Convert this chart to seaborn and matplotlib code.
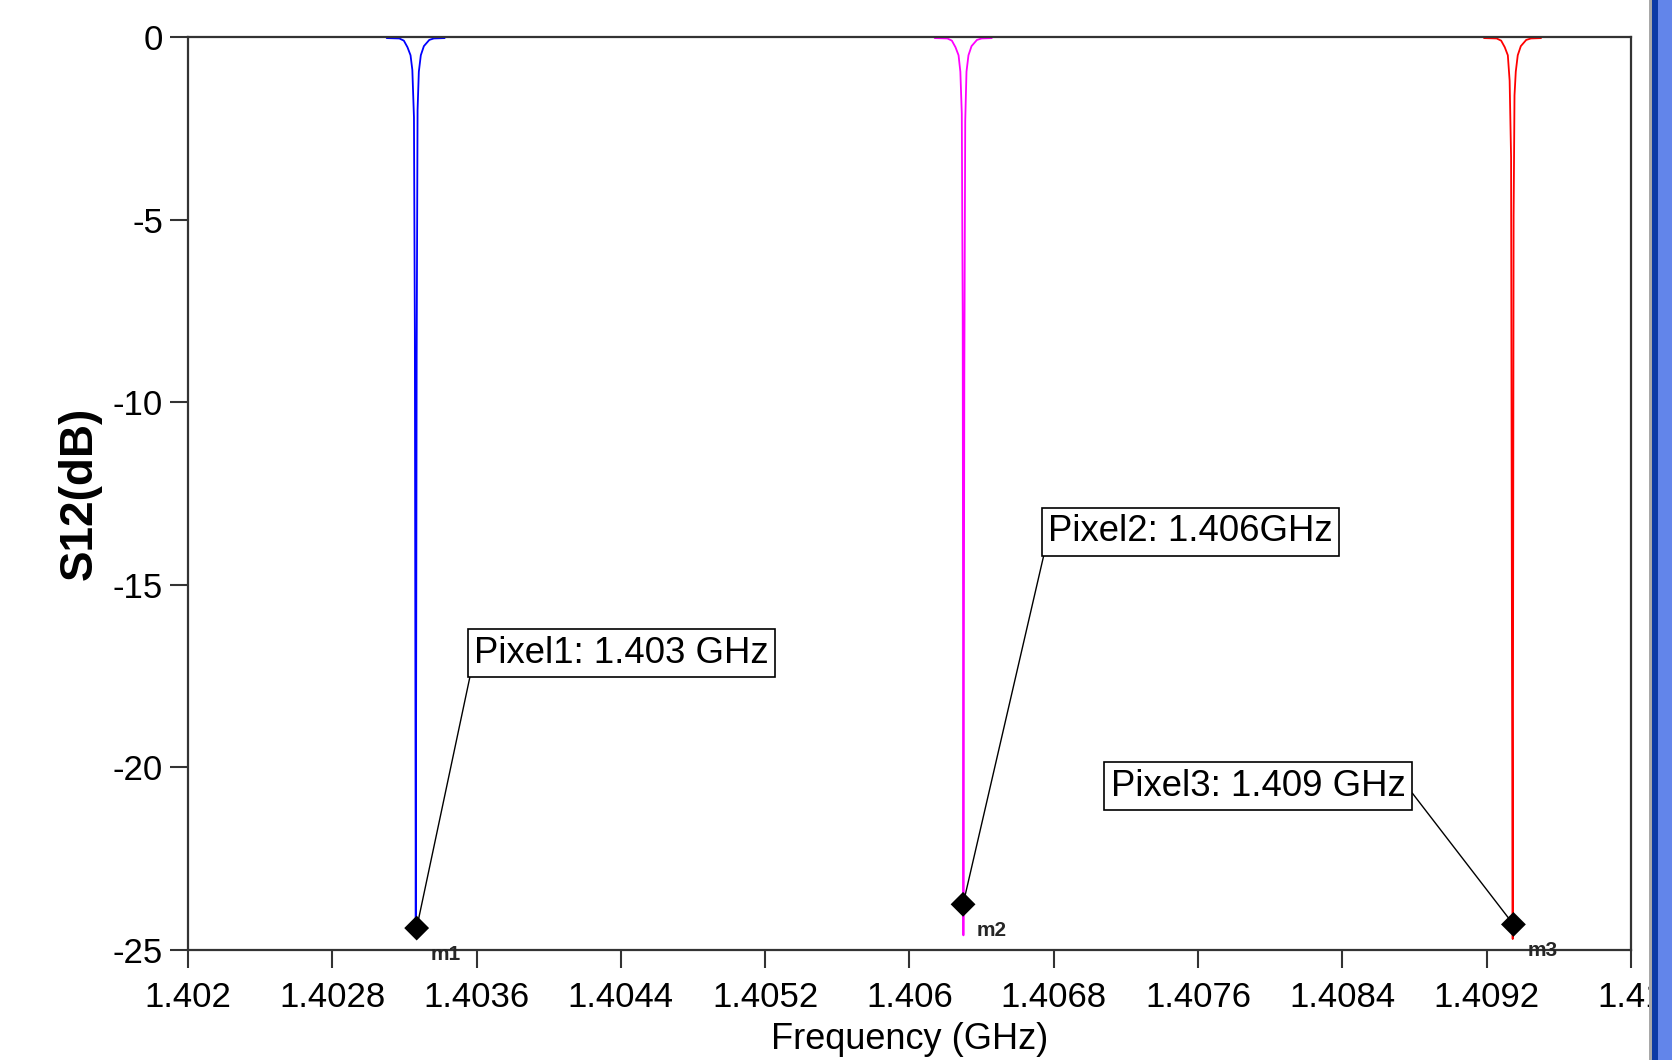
import matplotlib
matplotlib.use("Agg")
import matplotlib.pyplot as plt
from matplotlib.patches import Rectangle
import seaborn as sns
import pandas as pd

# ---------------- data ----------------
pixel1_freq = [1.403102, 1.403172, 1.403197, 1.403217, 1.403234, 1.403244, 1.403253,
               1.403258, 1.403263, 1.403268, 1.403273, 1.403280, 1.403291, 1.403308,
               1.403338, 1.403363, 1.403423]
pixel1_db = [-0.03, -0.04, -0.10, -0.28, -0.50, -0.90, -2.2, -8.1, -24.6, -8.7, -2.0,
             -0.95, -0.50, -0.25, -0.08, -0.04, -0.03]

pixel2_freq = [1.406140, 1.406210, 1.406235, 1.406255, 1.406272, 1.406282, 1.406290,
               1.406295, 1.406299, 1.406304, 1.406309, 1.406316, 1.406327, 1.406344,
               1.406374, 1.406400, 1.406456]
pixel2_db = [-0.03, -0.04, -0.10, -0.28, -0.50, -0.95, -2.1, -7.6, -24.6, -9.3, -2.3,
             -0.95, -0.50, -0.25, -0.08, -0.04, -0.03]

pixel3_freq = [1.409185, 1.409255, 1.409280, 1.409300, 1.409317, 1.409327, 1.409335,
               1.409340, 1.409344, 1.409349, 1.409354, 1.409361, 1.409372, 1.409389,
               1.409419, 1.409445, 1.409501]
pixel3_db = [-0.03, -0.04, -0.10, -0.28, -0.50, -1.2, -3.3, -17.0, -24.7, -4.9, -1.6,
             -0.95, -0.50, -0.25, -0.08, -0.04, -0.03]

series_names = ["Pixel1", "Pixel2", "Pixel3"]
series_colors = ["#0000ff", "#ff00ff", "#ff0000"]

marker_names = ["m1", "m2", "m3"]
marker_freq = [1.403268, 1.406297, 1.409348]
marker_db = [-24.4, -23.75, -24.3]
marker_texts = ["Pixel1: 1.403 GHz", "Pixel2: 1.406GHz", "Pixel3: 1.409 GHz"]

x_ticks = [1.402, 1.4028, 1.4036, 1.4044, 1.4052, 1.406, 1.4068, 1.4076, 1.4084, 1.4092, 1.41]
x_ticklabels = ["1.402", "1.4028", "1.4036", "1.4044", "1.4052", "1.406", "1.4068",
                "1.4076", "1.4084", "1.4092", "1.41"]
y_ticks = [0, -5, -10, -15, -20, -25]
y_ticklabels = ["0", "-5", "-10", "-15", "-20", "-25"]

# ---------------- style ----------------
sns.set_theme(style="white")
plt.rcParams["font.family"] = ["Liberation Sans", "DejaVu Sans"]
plt.rcParams["axes.unicode_minus"] = False

df = pd.concat([
    pd.DataFrame({"freq": f, "S12": d, "pixel": n})
    for f, d, n in zip([pixel1_freq, pixel2_freq, pixel3_freq],
                       [pixel1_db, pixel2_db, pixel3_db], series_names)
], ignore_index=True)

fig = plt.figure(figsize=(16.72, 10.60), dpi=100)
ax = fig.add_axes([0.1124, 0.1038, 0.9755 - 0.1124, 0.9651 - 0.1038])

sns.lineplot(data=df, x="freq", y="S12", hue="pixel", palette=series_colors,
             sort=False, estimator=None, legend=False, linewidth=1.3, ax=ax)

sns.scatterplot(x=marker_freq, y=marker_db, marker="D", s=160, color="black",
                edgecolor="none", zorder=5, ax=ax)

ax.set_xlim(1.402, 1.41)
ax.set_ylim(-25, 0)
ax.set_xticks(x_ticks)
ax.set_xticklabels(x_ticklabels)
ax.set_yticks(y_ticks)
ax.set_yticklabels(y_ticklabels)
ax.tick_params(axis="both", which="major", direction="out", length=13, width=1.5,
               color="#333333", labelsize=25, labelcolor="black",
               bottom=True, left=True)
ax.tick_params(axis="x", pad=9)
ax.tick_params(axis="y", pad=5)

for sp in ax.spines.values():
    sp.set_color("#333333")
    sp.set_linewidth(1.6)

ax.set_xlabel("Frequency (GHz)", fontsize=26, color="black", labelpad=6)
ax.set_ylabel("S12(dB)", fontsize=33, fontweight="bold", color="black", labelpad=8)

# marker name labels
m_offsets = [(10, -19), (10, -19), (10, -19)]
for name, fx, fy, off in zip(marker_names, marker_freq, marker_db, m_offsets):
    ax.annotate(name, xy=(fx, fy), xytext=off, textcoords="offset points",
                fontsize=15, fontweight="bold", ha="left", va="center",
                annotation_clip=False, zorder=6)

# annotation boxes with leader lines
box_pos = [(1.403585, -16.87), (1.406770, -13.55), (1.407115, -20.51)]
box_relpos = [(0.0, 0.35), (0.0, 0.4), (1.0, 0.55)]
for txt, fx, fy, bp, rp in zip(marker_texts, marker_freq, marker_db, box_pos, box_relpos):
    ax.annotate(txt, xy=(fx, fy), xytext=bp, textcoords="data",
                fontsize=26.3, ha="left", va="center", color="black",
                bbox=dict(boxstyle="square,pad=0.17", fc="white", ec="black", lw=1.2),
                arrowprops=dict(arrowstyle="-", color="black", lw=1.0, relpos=rp,
                                shrinkA=0, shrinkB=0),
                zorder=7)

# window border strip on the right (screenshot frame)
fig.add_artist(Rectangle((1649 / 1672, 0), 3 / 1672, 1, transform=fig.transFigure,
                         facecolor="#a8a8a8", edgecolor="none", zorder=10))
fig.add_artist(Rectangle((1652 / 1672, 0), 6 / 1672, 1, transform=fig.transFigure,
                         facecolor="#0b3aa6", edgecolor="none", zorder=10))
fig.add_artist(Rectangle((1658 / 1672, 0), 14 / 1672, 1, transform=fig.transFigure,
                         facecolor="#6285ea", edgecolor="none", zorder=10))

fig.savefig("out.png", dpi=100, facecolor="white")
